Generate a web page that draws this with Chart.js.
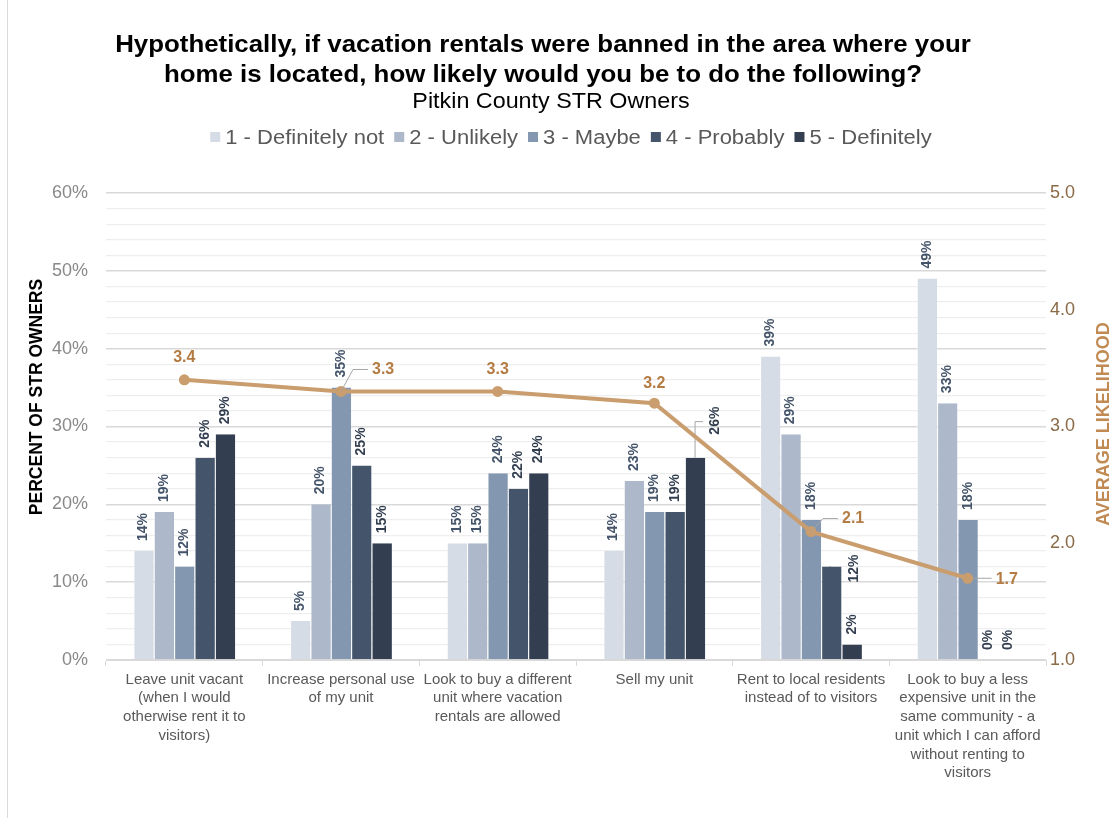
<!DOCTYPE html>
<html>
<head>
<meta charset="utf-8">
<title>Vacation rental ban - Pitkin County STR Owners</title>
<script src="https://cdn.jsdelivr.net/npm/chart.js@4.4.1/dist/chart.umd.min.js"></script>
<style>
  html, body { margin: 0; padding: 0; background: #ffffff; }
  #wrap { position: relative; width: 1118px; height: 818px; }
  /* thin frame line down the left edge, as in the source slide */
  #wrap::before { content: ''; position: absolute; left: 7px; top: 0; bottom: 0; border-left: 1px solid #d9d9d9; }
</style>
</head>
<body>
<div id="wrap">
  <canvas id="str-ban-chart" width="1118" height="818"></canvas>
</div>
<script>
// Values.
const titleLines = [
  'Hypothetically, if vacation rentals were banned in the area where your',
  'home is located, how likely would you be to do the following?',
];
const subtitle = 'Pitkin County STR Owners';
const categories = [
  ['Leave unit vacant', '(when I would', 'otherwise rent it to', 'visitors)'],
  ['Increase personal use', 'of my unit'],
  ['Look to buy a different', 'unit where vacation', 'rentals are allowed'],
  ['Sell my unit'],
  ['Rent to local residents', 'instead of to visitors'],
  ['Look to buy a less', 'expensive unit in the', 'same community - a', 'unit which I can afford', 'without renting to', 'visitors'],
];
const seriesNames = ['1 - Definitely not', '2 - Unlikely', '3 - Maybe', '4 - Probably', '5 - Definitely'];
const definitelyNot = [14, 5, 15, 14, 39, 49];
const unlikely = [19, 20, 15, 23, 29, 33];
const maybe = [12, 35, 24, 19, 18, 18];
const probably = [26, 25, 22, 19, 12, 0];
const definitely = [29, 15, 24, 26, 2, 0];
const averageLikelihood = [3.4, 3.3, 3.3, 3.2, 2.1, 1.7];
const pctAxisMax = 60;
const avgAxisMin = 1;
const avgAxisMax = 5;

const FONT = 'Arial, "Liberation Sans", Helvetica, sans-serif';
const BAR_COLORS = ['#d6dce5', '#adb9ca', '#8497b0', '#44546a', '#333f50'];
const BAR_LABEL_COLORS = ['#44546a', '#44546a', '#44546a', '#333f50', '#333f50'];
const LINE_COLOR = '#c99d6d';
const LINE_LABEL_COLOR = '#b47c43';

// A couple of labels were nudged off their bars in the original to dodge the line.
const barLabelNudges = {
  '4:3': { dx: 20, dy: -23, leaderUp: 36 },
  '3:4': { beside: true },
};
// [dx, dy, align, leader] relative to each line point
const avgLabelPlacement = [
  [0, -22, 'center', false],
  [31, -22, 'left', true],
  [0, -22, 'center', false],
  [0, -20, 'center', false],
  [31, -13, 'left', true],
  [28, 1, 'left', true],
];

// The slide's heading face runs wider than Arial at the same height, so stretch it a little.
function stretchedText(ctx, text, x, y, sx) {
  ctx.save();
  ctx.translate(x, y);
  ctx.scale(sx, 1);
  ctx.fillText(text, 0, 0);
  ctx.restore();
}

const barLabels = {
  id: 'barLabels',
  beforeDatasetsDraw(chart) {
    const ctx = chart.ctx;
    ctx.save();
    ctx.font = `bold 14px ${FONT}`;
    ctx.textBaseline = 'middle';
    chart.data.datasets.forEach((ds, di) => {
      if (ds.type === 'line') return;
      const meta = chart.getDatasetMeta(di);
      meta.data.forEach((bar, i) => {
        const text = `${ds.data[i]}%`;
        const nudge = barLabelNudges[`${di}:${i}`];
        ctx.fillStyle = BAR_LABEL_COLORS[di];
        ctx.save();
        if (nudge && nudge.beside) {
          ctx.strokeStyle = '#a6a6a6';
          ctx.lineWidth = 1;
          ctx.beginPath();
          ctx.moveTo(bar.x - 2, bar.y);
          ctx.lineTo(bar.x + 10, bar.y + 4);
          ctx.stroke();
          ctx.translate(bar.x + bar.width + 2, bar.y + 2);
          ctx.rotate(-Math.PI / 2);
          ctx.textAlign = 'center';
        } else if (nudge) {
          ctx.strokeStyle = '#a6a6a6';
          ctx.lineWidth = 1;
          ctx.beginPath();
          ctx.moveTo(bar.x, bar.y);
          ctx.lineTo(bar.x, bar.y - nudge.leaderUp);
          ctx.lineTo(bar.x + 8, bar.y - nudge.leaderUp);
          ctx.stroke();
          ctx.translate(bar.x + nudge.dx, bar.y + nudge.dy);
          ctx.rotate(-Math.PI / 2);
          ctx.textAlign = 'left';
        } else {
          ctx.translate(bar.x, bar.y - 10);
          ctx.rotate(-Math.PI / 2);
          ctx.textAlign = 'left';
        }
        ctx.fillText(text, 0, 0);
        ctx.restore();
      });
    });
    ctx.restore();
  },
};

const lineLabels = {
  id: 'lineLabels',
  afterDatasetsDraw(chart) {
    const ctx = chart.ctx;
    const di = chart.data.datasets.findIndex((d) => d.type === 'line');
    const meta = chart.getDatasetMeta(di);
    ctx.save();
    ctx.font = `bold 16px ${FONT}`;
    ctx.textBaseline = 'middle';
    meta.data.forEach((pt, i) => {
      const [dx, dy, align, leader] = avgLabelPlacement[i];
      if (leader) {
        ctx.strokeStyle = '#a6a6a6';
        ctx.lineWidth = 1;
        ctx.beginPath();
        if (dy === 1) {
          ctx.moveTo(pt.x + 6, pt.y);
          ctx.lineTo(pt.x + dx - 4, pt.y);
        } else {
          ctx.moveTo(pt.x, pt.y);
          ctx.lineTo(pt.x + 12, pt.y + dy);
          ctx.lineTo(pt.x + dx - 4, pt.y + dy);
        }
        ctx.stroke();
      }
      ctx.fillStyle = LINE_LABEL_COLOR;
      ctx.textAlign = align;
      ctx.fillText(averageLikelihood[i].toFixed(1), pt.x + dx, pt.y + dy);
    });
    ctx.restore();
  },
};

// Title block, legend and the two rotated axis titles.
const header = {
  id: 'header',
  afterDraw(chart) {
    const ctx = chart.ctx;
    ctx.save();
    ctx.textBaseline = 'middle';
    ctx.textAlign = 'center';
    ctx.fillStyle = '#000000';
    ctx.font = `bold 24.5px ${FONT}`;
    titleLines.forEach((t, i) => stretchedText(ctx, t, 543, 45 + i * 30, 1.055));
    ctx.font = `22px ${FONT}`;
    stretchedText(ctx, subtitle, 551, 102, 1.06);

    const legendSx = 1.1;
    ctx.font = `20px ${FONT}`;
    ctx.textAlign = 'left';
    const bars = chart.data.datasets.filter((d) => d.type !== 'line');
    const widths = bars.map((d) => 15 + ctx.measureText(d.label).width * legendSx);
    const total = widths.reduce((a, b) => a + b, 0) + 10 * (bars.length - 1);
    let x = 571 - total / 2;
    bars.forEach((d, i) => {
      ctx.fillStyle = d.backgroundColor;
      ctx.fillRect(x, 132, 10, 10);
      ctx.fillStyle = '#595959';
      stretchedText(ctx, d.label, x + 15, 138, legendSx);
      x += widths[i] + 10;
    });

    ctx.textAlign = 'center';
    ctx.font = `bold 17.5px ${FONT}`;
    ctx.fillStyle = '#000000';
    ctx.save();
    ctx.translate(37, 397);
    ctx.rotate(-Math.PI / 2);
    ctx.fillText('PERCENT OF STR OWNERS', 0, 0);
    ctx.restore();
    ctx.font = `bold 18px ${FONT}`;
    ctx.fillStyle = '#c08a52';
    ctx.translate(1104, 424);
    ctx.rotate(-Math.PI / 2);
    ctx.fillText('AVERAGE LIKELIHOOD', 0, 0);
    ctx.restore();
  },
};

const seriesValues = [definitelyNot, unlikely, maybe, probably, definitely];

new Chart(document.getElementById('str-ban-chart'), {
  type: 'bar',
  data: {
    labels: categories,
    datasets: [
      ...seriesValues.map((values, i) => ({
        label: seriesNames[i],
        data: values,
        backgroundColor: BAR_COLORS[i],
        borderColor: 'rgba(255,255,255,0.55)',
        borderWidth: { left: 1, right: 0, top: 0, bottom: 0 },
        yAxisID: 'y',
        order: 1,
      })),
      {
        type: 'line',
        label: 'Average likelihood',
        data: averageLikelihood,
        yAxisID: 'y1',
        order: 0,
        borderColor: LINE_COLOR,
        backgroundColor: LINE_COLOR,
        borderWidth: 4,
        pointRadius: 5.5,
        pointBackgroundColor: LINE_COLOR,
        pointBorderWidth: 0,
        tension: 0,
      },
    ],
  },
  options: {
    responsive: false,
    animation: false,
    layout: { padding: { top: 193, left: 0, right: 0, bottom: 0 } },
    datasets: { bar: { categoryPercentage: 0.65, barPercentage: 1.0 } },
    scales: {
      x: {
        position: 'bottom',
        afterFit: (scale) => { scale.height = 158; },
        grid: { offset: true, drawOnChartArea: false, drawTicks: true, tickLength: 6, color: '#d9d9d9' },
        border: { color: '#d9d9d9', width: 1 },
        ticks: {
          color: '#595959',
          font: { family: FONT, size: 15, lineHeight: 1.25 },
          padding: 4,
          maxRotation: 0,
          autoSkip: false,
        },
      },
      y: {
        position: 'left',
        min: 0,
        max: pctAxisMax,
        afterFit: (scale) => { scale.width = 106; },
        border: { display: false },
        grid: {
          drawTicks: false,
          color: (c) => (c.tick && c.tick.value % 10 === 0 ? '#d9d9d9' : '#eeeeee'),
          lineWidth: (c) => (c.tick && c.tick.value % 10 === 0 ? 1.6 : 1.2),
        },
        ticks: {
          stepSize: 2,
          autoSkip: false,
          padding: 18,
          color: '#898989',
          font: { family: FONT, size: 18 },
          callback: (v) => (v % 10 === 0 ? `${v}%` : ''),
        },
      },
      y1: {
        position: 'right',
        min: avgAxisMin,
        max: avgAxisMax,
        afterFit: (scale) => { scale.width = 72; },
        border: { display: false },
        grid: { drawOnChartArea: false, drawTicks: false },
        ticks: {
          stepSize: 1,
          padding: 4,
          color: '#8a6a47',
          font: { family: FONT, size: 18 },
          callback: (v) => v.toFixed(1),
        },
      },
    },
    plugins: {
      legend: { display: false },
      title: { display: false },
      tooltip: { enabled: false },
    },
  },
  plugins: [barLabels, lineLabels, header],
});
</script>
</body>
</html>
